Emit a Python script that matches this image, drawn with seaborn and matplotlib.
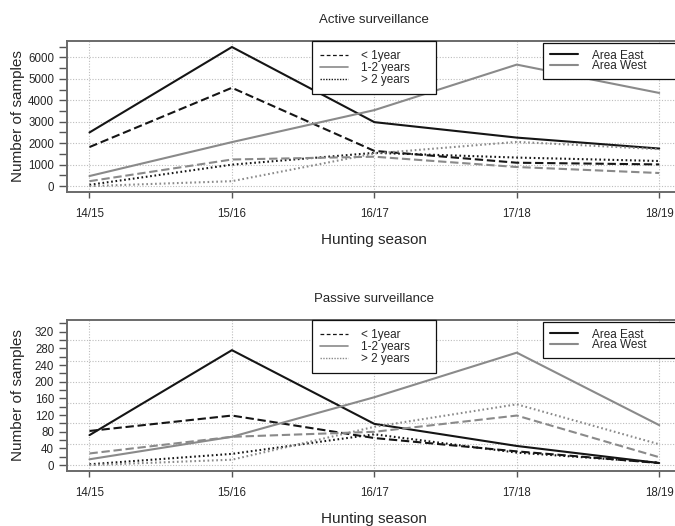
import numpy as np
import pandas as pd
import matplotlib
matplotlib.use("Agg")
import matplotlib.pyplot as plt
from matplotlib.lines import Line2D
from matplotlib.ticker import MultipleLocator
import seaborn as sns

# Data
seasons = ["14/15", "15/16", "16/17", "17/18", "18/19"]
areas = ["Area East", "Area West"]
ages = ["< 1year", "1-2 years", "> 2 years"]

# Active surveillance
active_east_lt1 = [1820, 4580, 1640, 1090, 1010]
active_east_12 = [2500, 6480, 2980, 2260, 1750]
active_east_gt2 = [60, 1000, 1550, 1330, 1170]
active_west_lt1 = [230, 1240, 1370, 890, 610]
active_west_12 = [470, 2050, 3540, 5660, 4340]
active_west_gt2 = [0, 230, 1520, 2060, 1720]

# Passive surveillance
passive_east_lt1 = [82, 119, 65, 33, 5]
passive_east_12 = [72, 276, 99, 46, 5]
passive_east_gt2 = [2, 27, 74, 30, 6]
passive_west_lt1 = [28, 68, 80, 119, 19]
passive_west_12 = [14, 68, 163, 270, 96]
passive_west_gt2 = [0, 13, 92, 146, 50]


def long_table(series):
    rows = []
    for (area, age), vals in series.items():
        for i, v in enumerate(vals):
            rows.append({"season": i, "samples": v, "area": area, "age": age})
    return pd.DataFrame(rows)


active_df = long_table({
    ("Area East", "< 1year"): active_east_lt1,
    ("Area East", "1-2 years"): active_east_12,
    ("Area East", "> 2 years"): active_east_gt2,
    ("Area West", "< 1year"): active_west_lt1,
    ("Area West", "1-2 years"): active_west_12,
    ("Area West", "> 2 years"): active_west_gt2,
})
passive_df = long_table({
    ("Area East", "< 1year"): passive_east_lt1,
    ("Area East", "1-2 years"): passive_east_12,
    ("Area East", "> 2 years"): passive_east_gt2,
    ("Area West", "< 1year"): passive_west_lt1,
    ("Area West", "1-2 years"): passive_west_12,
    ("Area West", "> 2 years"): passive_west_gt2,
})

sns.set_style("white")
plt.rcParams["font.family"] = ["Liberation Sans", "DejaVu Sans"]

colors = {"Area East": "#151515", "Area West": "#8a8a8a"}
dashes = {"< 1year": (4, 1.8), "1-2 years": "", "> 2 years": (0.8, 1.3)}

fig = plt.figure(figsize=(6.75, 5.26), dpi=100)
W, H = 675, 526


def px_axes(left, top, right, bottom):
    return fig.add_axes([left / W, 1 - bottom / H, (right - left) / W, (bottom - top) / H])


def draw_panel(ax, df, title, ylim, major, minor, grid_step, grid_top, title_y, xlabel_y, gt2_legend_color):
    sns.lineplot(data=df, x="season", y="samples", hue="area", style="age",
                 palette=colors, dashes=dashes, hue_order=areas, style_order=ages,
                 linewidth=1.5, legend=False, ax=ax, zorder=3)
    ax.set_xlim(-0.16, 4.16)
    ax.set_ylim(*ylim)
    ax.set_xticks(range(len(seasons)))
    ax.set_xticklabels(seasons)
    ax.yaxis.set_major_locator(MultipleLocator(major))
    ax.yaxis.set_minor_locator(MultipleLocator(minor))
    ax.set_xlabel("")
    ax.set_ylabel("Number of samples", fontsize=11)
    ax.yaxis.set_label_coords(-0.068, 0.5)

    # R-style grid: dotted, at pretty() positions
    for g in np.arange(0, grid_top + 1, grid_step):
        ax.axhline(g, color="#bdbdbd", lw=0.8, ls=(0, (1, 1.5)), zorder=1)
    for i in range(len(seasons)):
        ax.axvline(i, color="#bdbdbd", lw=0.8, ls=(0, (1, 1.5)), zorder=1)

    ax.tick_params(axis="x", which="major", direction="out", length=4.5, width=1,
                   color="#555555", labelsize=8.3, pad=7, bottom=True)
    ax.tick_params(axis="y", which="both", direction="out", length=6, width=1,
                   color="#555555", labelsize=8.3, pad=3, left=True)
    for s in ax.spines.values():
        s.set_color("#6a6a6a")
        s.set_linewidth(1.4)

    fig.text(374 / W, 1 - title_y / H, title, ha="center", va="center", fontsize=9.5)
    fig.text(374 / W, 1 - xlabel_y / H, "Hunting season", ha="center", va="center", fontsize=11)

    age_handles = [
        Line2D([], [], color="#151515", lw=0.9, ls=(0, (3, 2))),
        Line2D([], [], color="#8a8a8a", lw=1.2, ls="-"),
        Line2D([], [], color=gt2_legend_color, lw=1.0, ls=(0, (1, 1))),
    ]
    leg1 = ax.legend(age_handles, ages, loc="upper left", bbox_to_anchor=(0.399, 0.997, 0.2015, 0.0),
                     mode="expand", frameon=True, fancybox=False, edgecolor="#111111", fontsize=8.5,
                     handlelength=2.3, handletextpad=1.1, labelspacing=0.0,
                     borderpad=0.7, borderaxespad=0, framealpha=1)
    leg1.get_frame().set_linewidth(0.9)
    ax.add_artist(leg1)

    area_handles = [Line2D([], [], color=colors[a], lw=1.5) for a in areas]
    leg2 = ax.legend(area_handles, areas, loc="upper left", bbox_to_anchor=(0.7734, 0.99, 0.2266, 0.0),
                     mode="expand", frameon=True, fancybox=False, edgecolor="#111111",
                     fontsize=8.5, handlelength=2.4, handletextpad=1.2, labelspacing=-0.1,
                     borderpad=0.6, borderaxespad=0, framealpha=1)
    leg2.get_frame().set_linewidth(0.9)


ax1 = px_axes(66.7, 41, 682, 191.7)
draw_panel(ax1, active_df, "Active surveillance", (-260, 6760), 1000, 500, 1000, 6000,
           20, 240, "#151515")

ax2 = px_axes(66.7, 320, 682, 470.7)
draw_panel(ax2, passive_df, "Passive surveillance", (-13.4, 348.4), 40, 20, 50, 300,
           299, 519, "#8a8a8a")

fig.savefig("out.png", dpi=100)
